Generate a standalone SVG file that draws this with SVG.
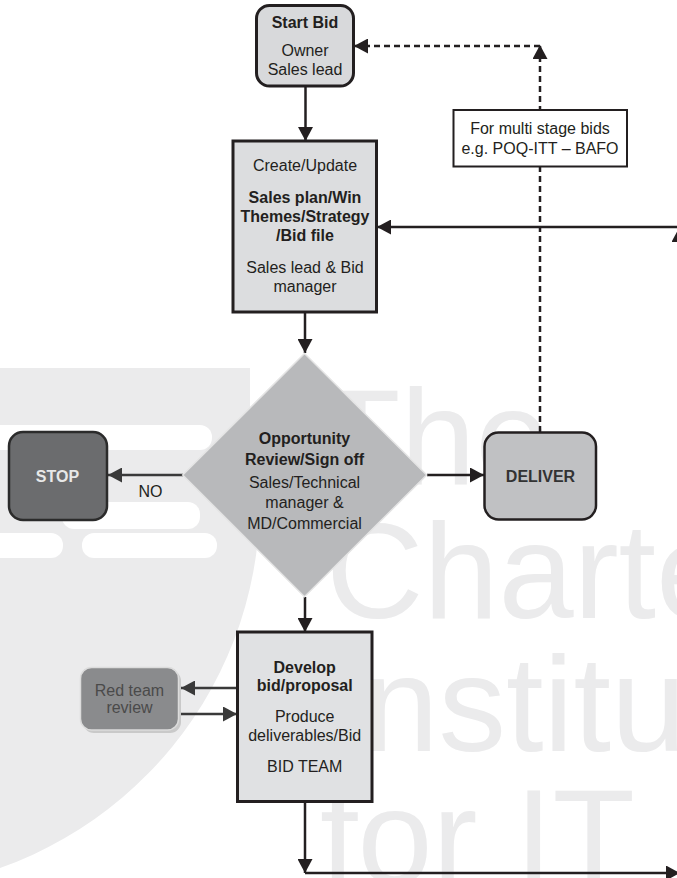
<svg xmlns="http://www.w3.org/2000/svg" width="677" height="878" viewBox="0 0 677 878">
<style>
.t{font-family:"Liberation Sans",Arial,Helvetica,sans-serif;font-size:16px;fill:#231f20;text-anchor:middle}
.b{font-weight:bold}
.wm{font-family:"Liberation Sans",Arial,Helvetica,sans-serif;font-size:135px;fill:#ebebec}
.box{stroke:#231f20;stroke-width:3}
.ln{fill:none;stroke:#231f20;stroke-width:2.5}
.lg{fill:none;stroke:#3a3a3a;stroke-width:2.5}
.dash{fill:none;stroke:#231f20;stroke-width:2.5;stroke-dasharray:6 4}
</style>
<defs>
<marker id="ah" viewBox="0 0 14 15" refX="14" refY="7.5" markerWidth="14" markerHeight="15" markerUnits="userSpaceOnUse" orient="auto"><path d="M0,0 L14,7.5 L0,15 z" fill="#231f20"/></marker>
<marker id="ahg" viewBox="0 0 14 15" refX="14" refY="7.5" markerWidth="14" markerHeight="15" markerUnits="userSpaceOnUse" orient="auto"><path d="M0,0 L14,7.5 L0,15 z" fill="#3a3a3a"/></marker>
</defs>
<rect width="677" height="878" fill="#ffffff"/>
<g id="watermark">
<path d="M0,368 H250 V413 A390,390 0 0 1 0,868 Z" fill="#ebebec"/>
<rect x="-20" y="425" width="232" height="25" rx="12" fill="#ffffff"/>
<rect x="62" y="502" width="138" height="27" rx="12" fill="#ffffff"/>
<rect x="-20" y="533" width="83" height="25" rx="12" fill="#ffffff"/>
<rect x="82" y="533" width="135" height="25" rx="12" fill="#ffffff"/>
<text class="wm" x="318" y="484">The</text>
<text class="wm" x="326" y="618">Charte</text>
<text class="wm" x="326" y="751">Institu</text>
<text class="wm" x="320" y="884">for IT</text>
</g>
<g id="connectors">
<path class="ln" d="M305.5,86 V141" marker-end="url(#ah)"/>
<path class="ln" d="M305,312 V353" marker-end="url(#ah)"/>
<path class="ln" d="M305,597 V632" marker-end="url(#ah)"/>
<path class="lg" d="M183,475 H108" marker-end="url(#ahg)"/>
<path class="ln" d="M427,475 H484" marker-end="url(#ah)"/>
<path class="ln" d="M677,227 H377" marker-end="url(#ah)"/>
<path class="ln" d="M679,262 V228" marker-end="url(#ah)"/>
<path class="dash" d="M540,432 V45" marker-end="url(#ah)"/>
<path class="dash" d="M540,46 H354" marker-end="url(#ah)"/>
<path class="lg" d="M237,688 H181" marker-end="url(#ahg)"/>
<path class="lg" d="M181,714 H237" marker-end="url(#ahg)"/>
<path class="ln" d="M305,802 V873" marker-end="url(#ah)"/>
<path class="ln" d="M305,873 H680" marker-end="url(#ah)"/>
</g>
<g id="label">
<rect x="453.5" y="110" width="173.5" height="56.5" fill="#ffffff" stroke="#231f20" stroke-width="2"/>
<text class="t" x="540" y="134.3">For multi stage bids</text>
<text class="t" x="540" y="154">e.g. POQ-ITT – BAFO</text>
</g>
<g id="start">
<rect class="box" x="256.5" y="5.5" width="97" height="80.5" rx="13" fill="#d8d9db"/>
<text class="t b" x="305" y="28.3">Start Bid</text>
<text class="t" x="305" y="55.5">Owner</text>
<text class="t" x="305" y="74.5">Sales lead</text>
</g>
<g id="create">
<rect class="box" x="233" y="141" width="143.5" height="171" fill="#dcdddf"/>
<text class="t" x="305" y="170.5">Create/Update</text>
<text class="t b" x="305" y="203.3">Sales plan/Win</text>
<text class="t b" x="305" y="222.3">Themes/Strategy</text>
<text class="t b" x="305" y="240.7">/Bid file</text>
<text class="t" x="305" y="272.7">Sales lead &amp; Bid</text>
<text class="t" x="305" y="291.7">manager</text>
</g>
<g id="review">
<path d="M304.5,353.5 L426.7,475 L304.5,596.7 L182.7,475 Z" fill="#b8b9bb" stroke="#e4e4e4" stroke-width="1.5"/>
<text class="t b" x="304.5" y="444">Opportunity</text>
<text class="t b" x="304.5" y="464.7">Review/Sign off</text>
<text class="t" x="304.5" y="487.7">Sales/Technical</text>
<text class="t" x="304.5" y="507.7">manager &amp;</text>
<text class="t" x="304.5" y="529.3">MD/Commercial</text>
</g>
<g id="stop">
<rect x="9" y="432" width="98" height="88" rx="14" fill="#6b6c6e" stroke="#2b2b2b" stroke-width="2.5"/>
<text class="t b" x="57.5" y="481.5" style="fill:#e8e8e8">STOP</text>
</g>
<text class="t" x="150.5" y="497">NO</text>
<g id="deliver">
<rect x="484.5" y="432.5" width="111.5" height="87" rx="14" fill="#c0c1c3" stroke="#231f20" stroke-width="2.5"/>
<text class="t b" x="540.5" y="481.5" style="fill:#333333">DELIVER</text>
</g>
<g id="develop">
<rect class="box" x="237.5" y="632" width="134.5" height="169.5" fill="#e0e1e3"/>
<text class="t b" x="304.7" y="673.3">Develop</text>
<text class="t b" x="304.7" y="691">bid/proposal</text>
<text class="t" x="304.7" y="722.3">Produce</text>
<text class="t" x="304.7" y="741">deliverables/Bid</text>
<text class="t" x="304.7" y="772.3">BID TEAM</text>
</g>
<g id="redteam">
<rect x="83" y="670" width="98" height="63" rx="11" fill="#c9c9c9"/>
<rect x="80.5" y="667.5" width="98" height="62.5" rx="11" fill="#8a8b8d" stroke="#dcdcdc" stroke-width="1.5"/>
<text class="t" x="129.5" y="695.7" style="fill:#4a4a4a">Red team</text>
<text class="t" x="129.5" y="713.3" style="fill:#4a4a4a">review</text>
</g>
</svg>
